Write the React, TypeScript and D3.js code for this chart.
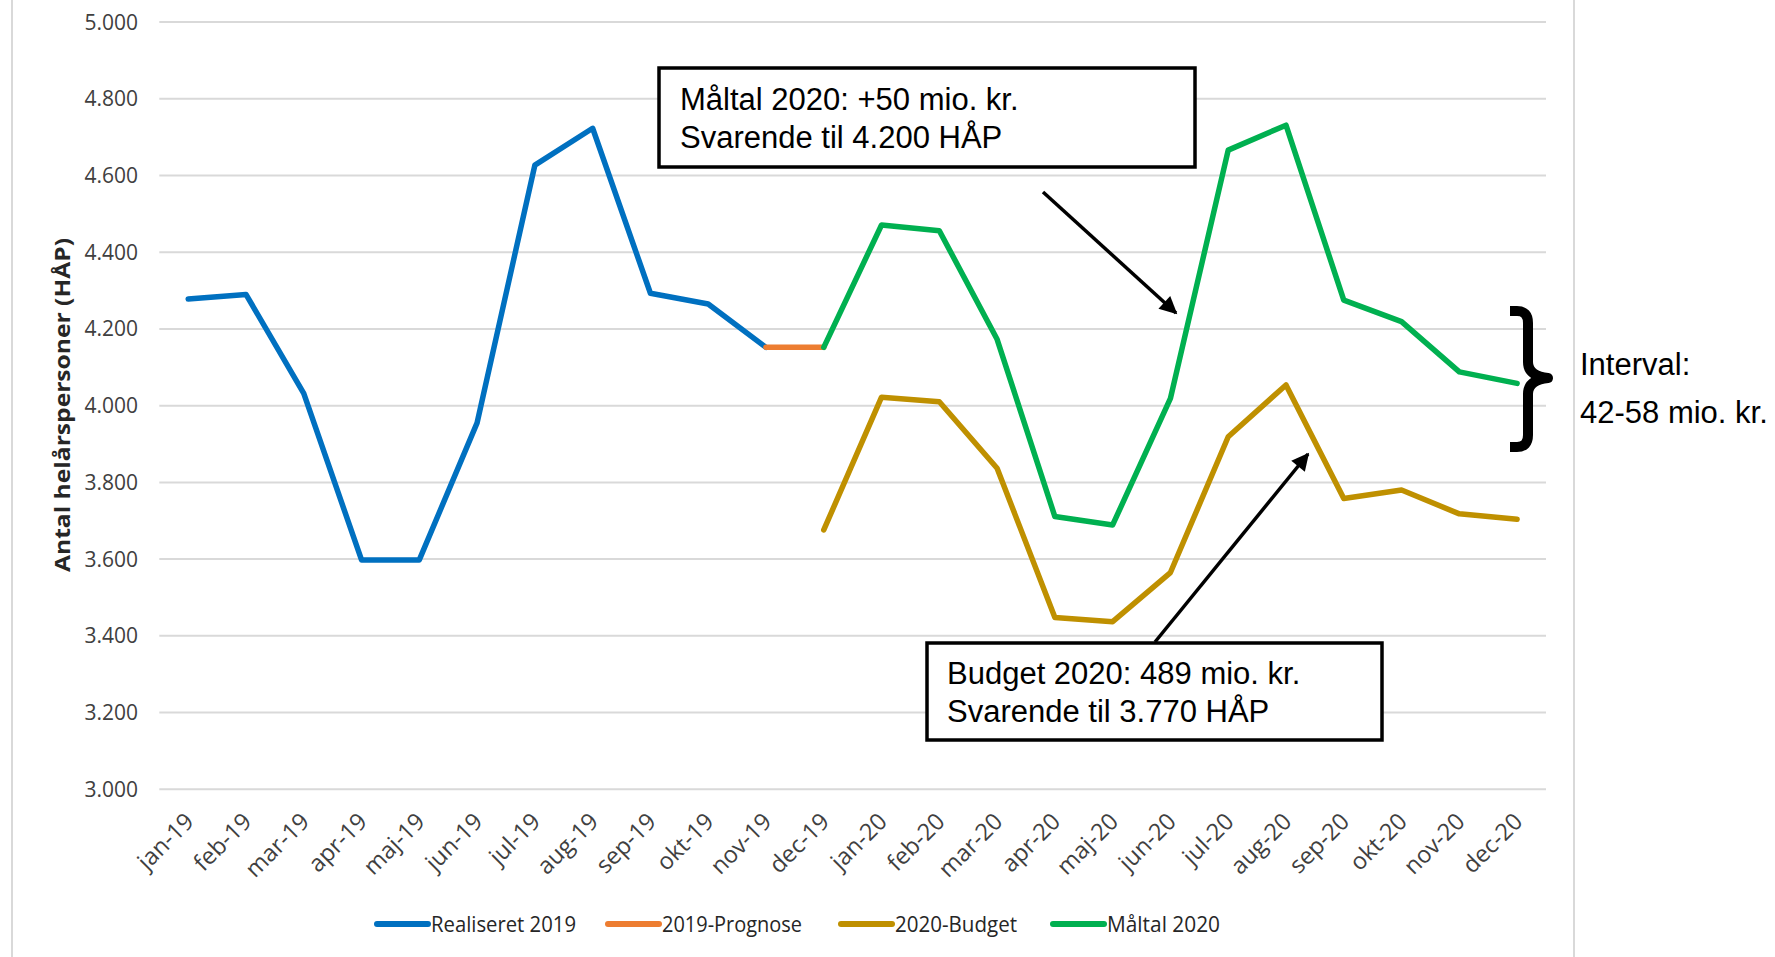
import React from "react";
import * as d3 from "d3";

const categories = [
  "jan-19", "feb-19", "mar-19", "apr-19", "maj-19", "jun-19",
  "jul-19", "aug-19", "sep-19", "okt-19", "nov-19", "dec-19",
  "jan-20", "feb-20", "mar-20", "apr-20", "maj-20", "jun-20",
  "jul-20", "aug-20", "sep-20", "okt-20", "nov-20", "dec-20",
];

const realiseret2019 = [
  4278, 4290, 4032, 3598, 3598, 3955, 4627, 4723, 4293, 4265, 4152, null,
  null, null, null, null, null, null, null, null, null, null, null, null,
];
const prognose2019 = [
  null, null, null, null, null, null, null, null, null, null, 4152, 4152,
  null, null, null, null, null, null, null, null, null, null, null, null,
];
const budget2020 = [
  null, null, null, null, null, null, null, null, null, null, null, 3676,
  4022, 4010, 3837, 3448, 3437, 3565, 3919, 4054, 3758, 3780, 3718, 3704,
];
const maltal2020 = [
  null, null, null, null, null, null, null, null, null, null, null, 4152,
  4471, 4456, 4173, 3711, 3689, 4019, 4666, 4731, 4275, 4219, 4088, 4058,
];

const seriesNames = ["Realiseret 2019", "2019-Prognose", "2020-Budget", "Måltal 2020"];
const seriesColors = ["#0070C0", "#ED7D31", "#BF9000", "#00B050"];
const seriesValues = [realiseret2019, prognose2019, budget2020, maltal2020];

const yTitle = "Antal helårspersoner (HÅP)";
const noteTop = ["Måltal 2020: +50 mio. kr.", "Svarende til 4.200 HÅP"];
const noteBottom = ["Budget 2020: 489 mio. kr.", "Svarende til 3.770 HÅP"];
const intervalText = ["Interval:", "42-58 mio. kr."];

const W = 1775;
const H = 957;
const plot = { left: 159.3, right: 1546, top: 22, bottom: 789.3 };

const daLocale = d3.formatLocale({
  decimal: ",",
  thousands: ".",
  grouping: [3],
  currency: ["", " kr."],
});
const fmt = daLocale.format(",.0f");

const tickFont = "'Open Sans', 'DejaVu Sans', sans-serif";
const noteFont = "'Liberation Sans', Arial, sans-serif";

export default function App() {
  const x = d3
    .scaleBand<string>()
    .domain(categories)
    .range([plot.left, plot.right]);
  const cx = (c: string) => (x(c) as number) + x.bandwidth() / 2;

  const y = d3.scaleLinear().domain([3000, 5000]).range([plot.bottom, plot.top]);

  const line = d3
    .line<number | null>()
    .defined((d) => d != null)
    .x((_, i) => cx(categories[i]))
    .y((d) => y(d as number));

  // legend layout
  const legendX = [377, 608, 841, 1053];
  const legendW = [145, 140, 122, 113];
  const legendY = 924;

  // annotation arrows
  const arrows = [
    { x1: 1043, y1: 192, x2: 1176, y2: 313 },
    { x1: 1155, y1: 642, x2: 1308, y2: 454 },
  ];

  return (
    <svg
      width={W}
      height={H}
      style={{ position: "absolute", left: 0, top: 0, background: "#fff" }}
    >
      <defs>
        <marker
          id="arrowHead"
          viewBox="0 0 10 10"
          refX="9"
          refY="5"
          markerWidth="5.5"
          markerHeight="5"
          orient="auto"
          markerUnits="strokeWidth"
        >
          <path d="M0,0 L10,5 L0,10 Z" fill="#000" />
        </marker>
      </defs>

      {/* chart area border */}
      <line x1={12} x2={12} y1={0} y2={H} stroke="#d9d9d9" strokeWidth={2} />
      <line x1={1574} x2={1574} y1={0} y2={H} stroke="#d9d9d9" strokeWidth={2} />

      {/* gridlines + y ticks */}
      {y.ticks(10).map((t) => (
        <g key={t}>
          <line
            x1={plot.left}
            x2={plot.right}
            y1={y(t)}
            y2={y(t)}
            stroke="#d9d9d9"
            strokeWidth={2}
          />
          <text
            x={138}
            y={y(t)}
            dy="0.36em"
            textAnchor="end"
            fontFamily={tickFont}
            fontSize={21}
            fill="#404040"
          >
            {fmt(t)}
          </text>
        </g>
      ))}

      {/* y title */}
      <text
        transform={`translate(70,405) rotate(-90)`}
        textAnchor="middle"
        fontFamily={tickFont}
        fontWeight="bold"
        fontSize={22}
        fill="#262626"
        textLength={334}
        lengthAdjust="spacingAndGlyphs"
      >
        {yTitle}
      </text>

      {/* x labels */}
      {categories.map((c) => (
        <text
          key={c}
          transform={`translate(${cx(c) + 7},823) rotate(-45)`}
          textAnchor="end"
          fontFamily={tickFont}
          fontSize={23.5}
          fill="#404040"
        >
          {c}
        </text>
      ))}

      {/* series */}
      {seriesValues.map((vals, i) => (
        <path
          key={seriesNames[i]}
          d={line(vals) || ""}
          fill="none"
          stroke={seriesColors[i]}
          strokeWidth={5.5}
          strokeLinejoin="round"
          strokeLinecap="round"
        />
      ))}

      {/* legend */}
      {seriesNames.map((n, i) => (
        <g key={n}>
          <line
            x1={legendX[i]}
            x2={legendX[i] + 51}
            y1={legendY}
            y2={legendY}
            stroke={seriesColors[i]}
            strokeWidth={6}
            strokeLinecap="round"
          />
          <text
            x={legendX[i] + 54}
            y={legendY}
            dy="0.36em"
            fontFamily={tickFont}
            fontSize={22}
            fill="#262626"
            textLength={legendW[i]}
            lengthAdjust="spacingAndGlyphs"
          >
            {n}
          </text>
        </g>
      ))}

      {/* arrows */}
      {arrows.map((a, i) => (
        <line
          key={i}
          x1={a.x1}
          y1={a.y1}
          x2={a.x2}
          y2={a.y2}
          stroke="#000"
          strokeWidth={3.5}
          markerEnd="url(#arrowHead)"
        />
      ))}

      {/* annotation boxes */}
      <rect x={659} y={68} width={536} height={99} fill="#fff" stroke="#000" strokeWidth={3.5} />
      {noteTop.map((t, i) => (
        <text key={t} x={680} y={110 + i * 38} fontFamily={noteFont} fontSize={31} fill="#000">
          {t}
        </text>
      ))}
      <rect x={927} y={643} width={455} height={97} fill="#fff" stroke="#000" strokeWidth={3.5} />
      {noteBottom.map((t, i) => (
        <text key={t} x={947} y={684 + i * 38} fontFamily={noteFont} fontSize={31} fill="#000">
          {t}
        </text>
      ))}

      {/* brace */}
      <path
        d="M1510,311 H1517 Q1528,311 1528,323 V362 Q1528,376 1548,378 Q1528,380 1528,394 V435 Q1528,447 1517,447 H1510"
        fill="none"
        stroke="#000"
        strokeWidth={10}
        strokeLinejoin="round"
      />
      {intervalText.map((t, i) => (
        <text key={t} x={1580} y={375 + i * 48} fontFamily={noteFont} fontSize={31} fill="#000">
          {t}
        </text>
      ))}
    </svg>
  );
}
